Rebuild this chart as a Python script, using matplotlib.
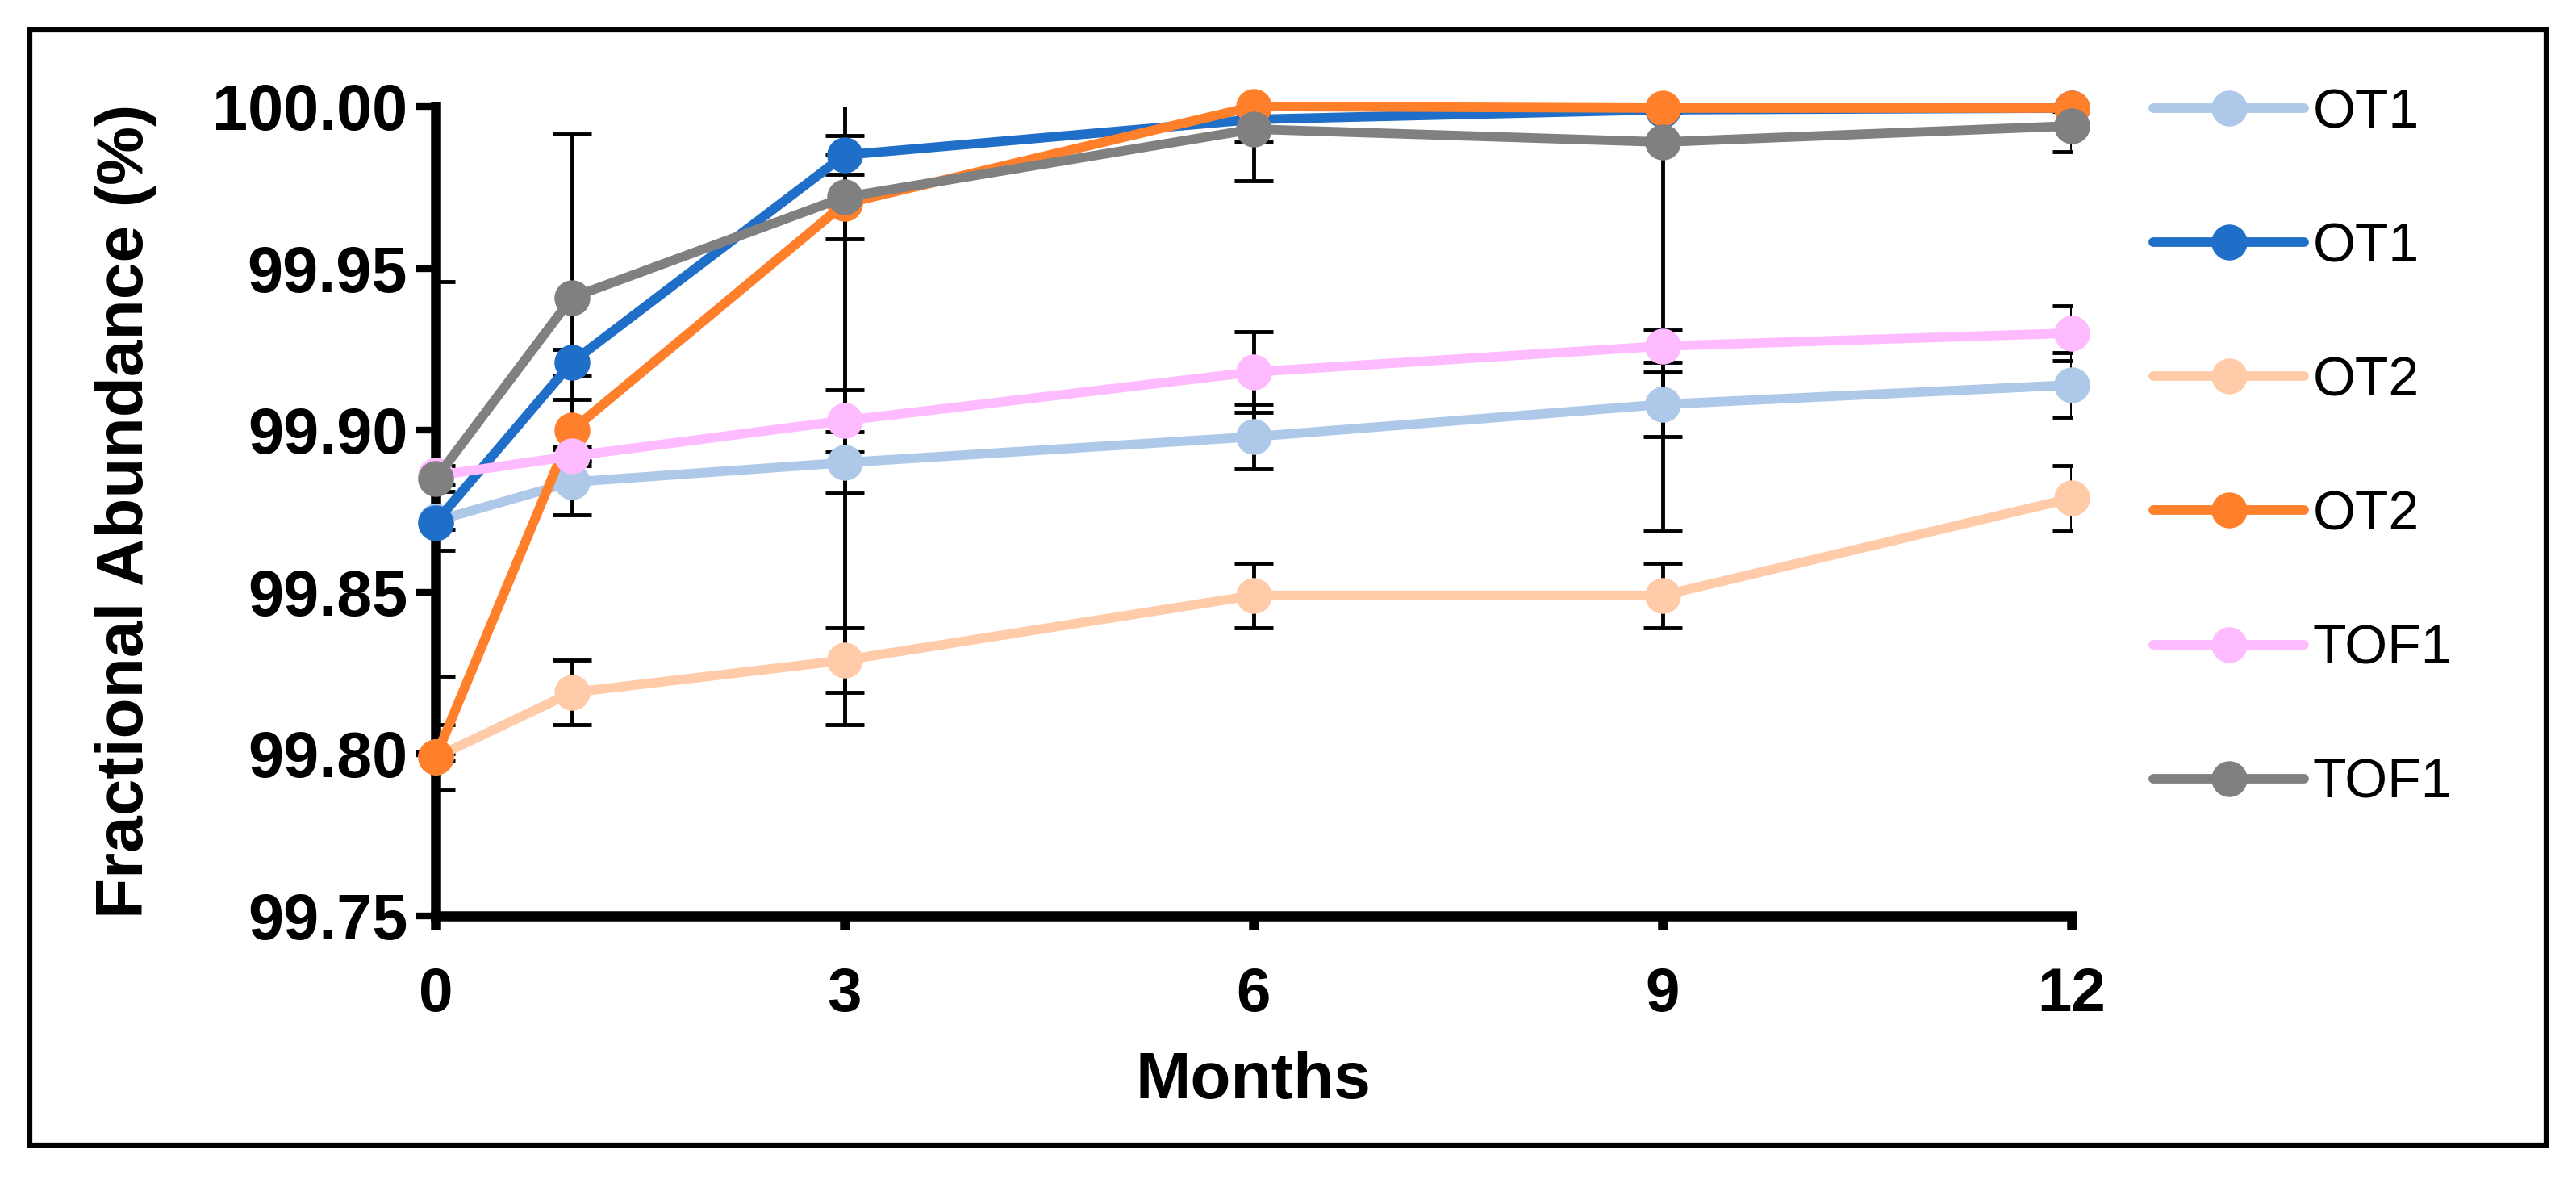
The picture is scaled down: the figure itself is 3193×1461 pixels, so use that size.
import matplotlib
matplotlib.use("Agg")
import matplotlib.pyplot as plt
from matplotlib.ticker import FormatStrFormatter, MultipleLocator
from matplotlib.patches import Rectangle

plt.rcParams['font.family'] = ['Liberation Sans', 'DejaVu Sans']

months = [0, 1, 3, 6, 9, 12]

# OT1 (light / dark), OT2 (light / dark), TOF1 (light / dark)
ot1_light = [99.872, 99.884, 99.890, 99.898, 99.908, 99.914]
ot1_light_err = [0.009, 0.010, 0.0095, 0.010, 0.010, 0.010]
ot1_dark = [99.8715, 99.921, 99.985, 99.996, 99.999, 99.9995]
ot1_dark_err = [0.002, 0.004, 0.006, 0.007, 0.001, 0.001]

ot2_light = [99.799, 99.819, 99.829, 99.849, 99.849, 99.879]
ot2_light_err = [0.010, 0.010, 0.010, 0.010, 0.010, 0.010]
ot2_dark = [99.799, 99.900, 99.970, 100.000, 99.9995, 99.9995]
ot2_dark_err = [0.001, 0.0094, 0.161, 0.0005, 0.0005, 0.0005]

tof1_light = [99.886, 99.892, 99.903, 99.918, 99.926, 99.930]
tof1_light_err = [0.003, 0.003, 0.0096, 0.0125, 0.005, 0.0085]
tof1_dark = [99.885, 99.941, 99.972, 99.993, 99.989, 99.994]
tof1_dark_err = [0.061, 0.0506, 0.013, 0.016, 0.120, 0.008]

labels = ["OT1", "OT1", "OT2", "OT2", "TOF1", "TOF1"]
colors = ["#AEC8E9", "#1F6FC8", "#FFCBA9", "#FF7F2A", "#FFBBFF", "#808080"]
series = [ot1_light, ot1_dark, ot2_light, ot2_dark, tof1_light, tof1_dark]
errors = [ot1_light_err, ot1_dark_err, ot2_light_err, ot2_dark_err,
          tof1_light_err, tof1_dark_err]

fig = plt.figure(figsize=(31.93, 14.61), dpi=100)
ax = fig.add_axes([0.1691, 0.2231, 0.6351, 0.6866])

# error bars behind the lines
for y, e in zip(series, errors):
    ax.errorbar(months, y, yerr=e, fmt='none', ecolor='black',
                elinewidth=3.5, capsize=17, capthick=3.5, zorder=2)

handles = []
for i, (y, c, lab) in enumerate(zip(series, colors, labels)):
    h, = ax.plot(months, y, color=c, lw=8.5, marker='o', ms=31,
                 solid_capstyle='round', label=lab, zorder=3 + i,
                 clip_on=False)
    handles.append(h)

ax.set_xlim(0, 12)
ax.set_ylim(99.75, 100.00)
ax.set_xticks([0, 3, 6, 9, 12])
ax.yaxis.set_major_locator(MultipleLocator(0.05))
ax.yaxis.set_major_formatter(FormatStrFormatter('%.2f'))

for s in ['top', 'right']:
    ax.spines[s].set_visible(False)
for s in ['left', 'bottom']:
    ax.spines[s].set_linewidth(9)

ax.tick_params(axis='y', direction='out', length=17, width=6,
               labelsize=57, pad=8)
ax.tick_params(axis='x', direction='out', length=12, width=9,
               labelsize=55, pad=33)
for t in ax.get_xticklabels() + ax.get_yticklabels():
    t.set_fontweight('bold')

ax.set_xlabel("Months", fontsize=59, fontweight='bold', labelpad=24)
ax.set_ylabel("Fractional Abundance (%)", fontsize=59, fontweight='bold',
              labelpad=50)

fig.legend(handles=handles, labels=labels, loc='upper left',
           bbox_to_anchor=(0.8168, 0.968), frameon=False, fontsize=49,
           handlelength=2.75, handletextpad=0.15, labelspacing=1.5)

fig.patches.append(Rectangle((0.0116, 0.0287), 0.9768, 0.9459,
                             transform=fig.transFigure, fill=False,
                             edgecolor='black', linewidth=4.5))

fig.savefig("out.png", dpi=100)
